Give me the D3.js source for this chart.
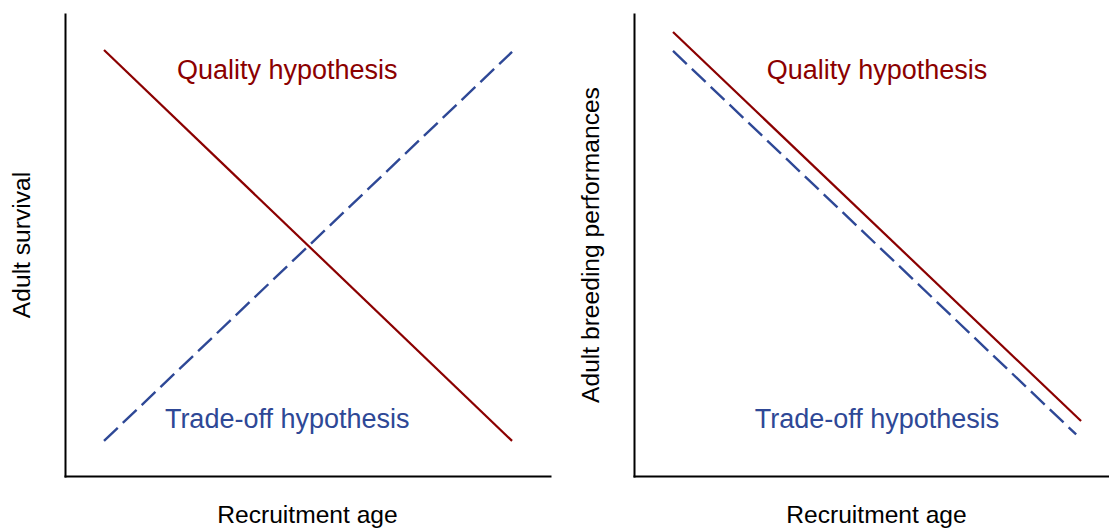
<!DOCTYPE html>
<html>
<head>
<meta charset="utf-8">
<script src="https://cdn.jsdelivr.net/npm/d3@7"></script>
<style>
	body { margin: 0; background: #fff; }
	svg text { font-family: "Liberation Sans", Arial, sans-serif; }
</style>
</head>
<body>
<svg id="chart" width="1109" height="528"></svg>
<script>
// conceptual values, relative scale 0..1
const recruitAge = [0, 1];
const survivalQuality = [0.922, 0.076];
const survivalTradeoff = [0.076, 0.918];
const breedingQuality = [0.961, 0.119];
const breedingAgeTradeoff = [0, 0.988];
const breedingTradeoff = [0.920, 0.090];

const xLabel = "Recruitment age";
const yLabels = ["Adult survival", "Adult breeding performances"];
const hypLabels = ["Quality hypothesis", "Trade-off hypothesis"];

const red = "#8b0000";
const blue = "#2e4896";

const svg = d3.select("svg#chart");

const panels = [
	{
		left: 65, width: 485, yLabel: yLabels[0],
		quality: { x: recruitAge, y: survivalQuality },
		tradeoff: { x: recruitAge, y: survivalTradeoff },
		labelX: 0.449,
	},
	{
		left: 634, width: 485, yLabel: yLabels[1],
		quality: { x: recruitAge, y: breedingQuality },
		tradeoff: { x: breedingAgeTradeoff, y: breedingTradeoff },
		labelX: 0.5,
	},
];

const plotTop = 14, plotBottom = 476;

panels.forEach((p) => {
	const g = svg.append("g");

	const x = d3.scaleLinear()
		.domain([-0.0956, 1.093])
		.range([p.left, p.left + p.width]);
	const y = d3.scaleLinear().domain([0, 1]).range([plotBottom, plotTop]);

	// axes without ticks
	g.append("g")
		.attr("transform", `translate(0,${plotBottom})`)
		.call(d3.axisBottom(x).tickValues([]).tickSizeOuter(0));
	g.append("g")
		.attr("transform", `translate(${p.left},0)`)
		.call(d3.axisLeft(y).tickValues([]).tickSizeOuter(0));
	g.selectAll(".domain")
		.attr("stroke", "#000")
		.attr("stroke-width", 2)
		.attr("stroke-linecap", "square");

	const line = d3.line().x((d) => x(d[0])).y((d) => y(d[1]));

	g.append("path")
		.datum(d3.zip(p.quality.x, p.quality.y))
		.attr("d", line)
		.attr("fill", "none")
		.attr("stroke", red)
		.attr("stroke-width", 2.2);

	g.append("path")
		.datum(d3.zip(p.tradeoff.x, p.tradeoff.y))
		.attr("d", line)
		.attr("fill", "none")
		.attr("stroke", blue)
		.attr("stroke-width", 2.4)
		.attr("stroke-dasharray", "19,7");

	g.append("text")
		.attr("x", x(p.labelX))
		.attr("y", 79)
		.attr("text-anchor", "middle")
		.attr("font-size", "27px")
		.attr("fill", red)
		.text(hypLabels[0]);

	g.append("text")
		.attr("x", x(p.labelX))
		.attr("y", 428)
		.attr("text-anchor", "middle")
		.attr("font-size", "27px")
		.attr("fill", blue)
		.text(hypLabels[1]);

	g.append("text")
		.attr("x", p.left + p.width / 2)
		.attr("y", 523)
		.attr("text-anchor", "middle")
		.attr("font-size", "24.6px")
		.attr("fill", "#000")
		.text(xLabel);

	g.append("text")
		.attr("transform", `translate(${p.left - 35},${(plotTop + plotBottom) / 2}) rotate(-90)`)
		.attr("text-anchor", "middle")
		.attr("font-size", "24.6px")
		.attr("fill", "#000")
		.text(p.yLabel);
});
</script>
</body>
</html>
